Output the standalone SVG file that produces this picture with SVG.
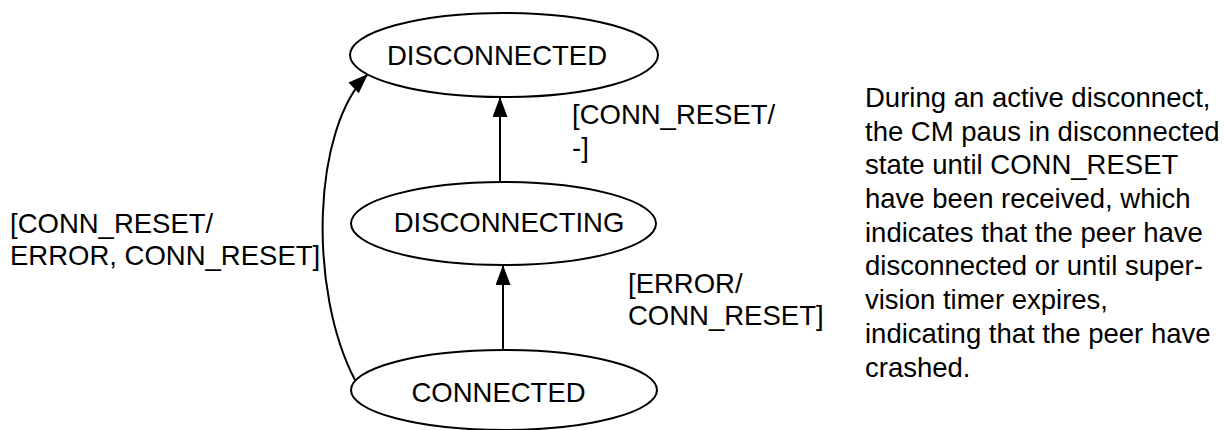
<svg xmlns="http://www.w3.org/2000/svg" width="1224" height="430" viewBox="0 0 1224 430">
<defs>
<style>
.node{fill:#fff;stroke:#000;stroke-width:2}
.t{font-family:"Liberation Sans",Arial,sans-serif;font-size:27.5px;fill:#000}
.c{text-anchor:middle}
.edge{fill:none;stroke:#000;stroke-width:2}
</style>
<marker id="arr" markerUnits="userSpaceOnUse" markerWidth="22" markerHeight="16" refX="20" refY="7.5" orient="auto">
<path d="M0,0 L20,7.5 L0,15 Z" fill="#000"/>
</marker>
</defs>
<rect width="1224" height="430" fill="#fff"/>
<g id="connectors">
<path class="edge" d="M500,182 L500,97" marker-end="url(#arr)"/>
<path class="edge" d="M503,350 L503,265" marker-end="url(#arr)"/>
<path class="edge" d="M355,380 C308,290 312,128 368,74" marker-end="url(#arr)"/>
</g>
<g id="n-disconnected">
<ellipse class="node" cx="504" cy="55" rx="154" ry="42"/>
<text class="t c" x="497" y="65">DISCONNECTED</text>
</g>
<g id="n-disconnecting">
<ellipse class="node" cx="503.5" cy="223.5" rx="152.5" ry="41.5"/>
<text class="t c" x="509" y="232">DISCONNECTING</text>
</g>
<g id="n-connected">
<ellipse class="node" cx="504" cy="390" rx="153" ry="40"/>
<text class="t c" x="498.5" y="402">CONNECTED</text>
</g>
<g id="labels">
<text class="t" x="572" y="124">[CONN_RESET/</text>
<text class="t" x="572" y="157">-]</text>
<text class="t" x="628" y="293">[ERROR/</text>
<text class="t" x="628" y="325">CONN_RESET]</text>
<text class="t" x="10" y="233">[CONN_RESET/</text>
<text class="t" x="10" y="265">ERROR, CONN_RESET]</text>
</g>
<g id="note">
<text class="t" x="865" y="107">During an active disconnect,</text>
<text class="t" x="865" y="141">the CM paus in disconnected</text>
<text class="t" x="865" y="174">state until CONN_RESET</text>
<text class="t" x="865" y="208">have been received, which</text>
<text class="t" x="865" y="242">indicates that the peer have</text>
<text class="t" x="865" y="275">disconnected or until super-</text>
<text class="t" x="865" y="309">vision timer expires,</text>
<text class="t" x="865" y="343">indicating that the peer have</text>
<text class="t" x="865" y="377">crashed.</text>
</g>
</svg>
